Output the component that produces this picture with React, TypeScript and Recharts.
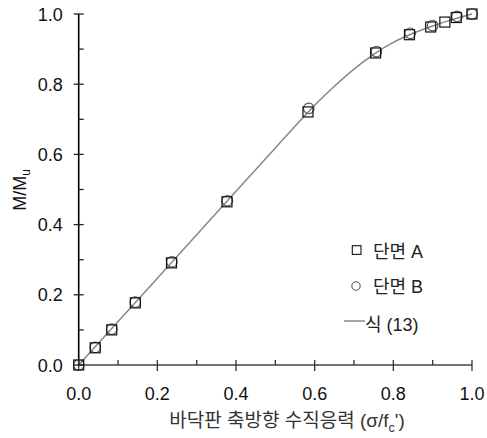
import { ComposedChart, Line, Scatter, XAxis, YAxis } from 'recharts';

// 단면 A (squares)
const sectionA = [
  { x: 0, y: 0 },
  { x: 0.042, y: 0.049 },
  { x: 0.084, y: 0.1 },
  { x: 0.144, y: 0.177 },
  { x: 0.236, y: 0.291 },
  { x: 0.377, y: 0.465 },
  { x: 0.583, y: 0.721 },
  { x: 0.755, y: 0.889 },
  { x: 0.841, y: 0.941 },
  { x: 0.895, y: 0.963 },
  { x: 0.931, y: 0.977 },
  { x: 0.96, y: 0.99 },
  { x: 1.0, y: 1.0 },
];

// 단면 B (circles)
const sectionB = [
  { x: 0, y: 0 },
  { x: 0.042, y: 0.05 },
  { x: 0.084, y: 0.102 },
  { x: 0.144, y: 0.179 },
  { x: 0.237, y: 0.294 },
  { x: 0.378, y: 0.468 },
  { x: 0.585, y: 0.731 },
  { x: 0.757, y: 0.893 },
  { x: 0.843, y: 0.945 },
  { x: 0.9, y: 0.967 },
  { x: 0.962, y: 0.993 },
  { x: 1.0, y: 1.0 },
];

// 식 (13)
const eq13 = [
  { x: 0, y: 0 },
  { x: 0.1, y: 0.1237 },
  { x: 0.2, y: 0.247 },
  { x: 0.3, y: 0.371 },
  { x: 0.4, y: 0.495 },
  { x: 0.5, y: 0.6185 },
  { x: 0.55, y: 0.68 },
  { x: 0.6, y: 0.74 },
  { x: 0.65, y: 0.794 },
  { x: 0.7, y: 0.843 },
  { x: 0.75, y: 0.885 },
  { x: 0.8, y: 0.919 },
  { x: 0.85, y: 0.945 },
  { x: 0.9, y: 0.966 },
  { x: 0.95, y: 0.984 },
  { x: 1.0, y: 1.0 },
];

const TICKS = [0, 0.1, 0.2, 0.3, 0.4, 0.5, 0.6, 0.7, 0.8, 0.9, 1.0];
const LEGEND = ['단면 A', '단면 B', '식 (13)'];

const FONT = "'Liberation Sans', Arial, sans-serif";
// latin glyphs in Arial-like face, hangul falls back to Noto CJK
const KFONT = "'Liberation Sans', 'Noto Sans CJK KR', sans-serif";

const isMajor = (v: number) => Math.round(v * 10) % 2 === 0;

function XTick({ x, y, payload }: any) {
  const v = payload.value;
  const major = isMajor(v);
  return (
    <g>
      <line x1={x} x2={x} y1={y - 5} y2={major ? y + 6 : y} stroke="#333" strokeWidth={1.3} />
      {major && (
        <text x={x} y={y + 34.5} textAnchor="middle" fontSize={18} fill="#111" fontFamily={FONT}>
          {v.toFixed(1)}
        </text>
      )}
    </g>
  );
}

function YTick({ x, y, payload }: any) {
  const v = payload.value;
  const major = isMajor(v);
  return (
    <g>
      <line x1={major ? x - 5 : x} x2={x + 5} y1={y} y2={y} stroke="#222" strokeWidth={1.3} />
      {major && (
        <text x={x - 16} y={y + 6.5} textAnchor="end" fontSize={18} fill="#111" fontFamily={FONT}>
          {v.toFixed(1)}
        </text>
      )}
    </g>
  );
}

function SquareDot({ cx, cy }: any) {
  return <rect x={cx - 5} y={cy - 5} width={10} height={10} fill="none" stroke="#111" strokeWidth={1.2} />;
}

function CircleDot({ cx, cy }: any) {
  return <circle cx={cx} cy={cy} r={5.3} fill="none" stroke="#555" strokeWidth={1.1} />;
}

export default function App() {
  return (
    <div style={{ position: 'absolute', left: 0, top: 0, width: 487, height: 438 }}>
      <ComposedChart width={487} height={438} margin={{ top: 14, right: 15, bottom: 0, left: 0 }}>
        <XAxis
          dataKey="x"
          type="number"
          domain={[0, 1]}
          ticks={TICKS}
          height={73}
          tickSize={0}
          tickMargin={0}
          tick={<XTick />}
          axisLine={{ stroke: '#444', strokeWidth: 1.6 }}
          label={{
            content: () => (
              <text x={287} y={427} textAnchor="middle" fontSize={19} fill="#333" fontFamily={KFONT}>
                바닥판 축방향 수직응력 (σ/f
                <tspan fontSize={12.5} dy={5}>c</tspan>
                <tspan dy={-5}>')</tspan>
              </text>
            ),
          }}
        />
        <XAxis xAxisId="top" orientation="top" type="number" domain={[0, 1]} height={0} tick={false} tickLine={false} axisLine={{ stroke: '#000', strokeWidth: 1.4 }} />
        <YAxis
          type="number"
          domain={[0, 1]}
          ticks={TICKS}
          width={78.7}
          tickSize={0}
          tickMargin={0}
          tick={<YTick />}
          axisLine={{ stroke: '#000', strokeWidth: 1.6 }}
          label={{
            content: () => (
              <text x={26} y={190} transform="rotate(-90 26 190)" textAnchor="middle" fontSize={18} fill="#111" fontFamily={FONT}>
                M/M
                <tspan fontSize={12} dy={4}>u</tspan>
              </text>
            ),
          }}
        />
        <YAxis yAxisId="right" orientation="right" type="number" domain={[0, 1]} width={0} tick={false} tickLine={false} axisLine={{ stroke: '#000', strokeWidth: 1.4 }} />
        <Line data={eq13} dataKey="y" type="monotone" stroke="#888" strokeWidth={1.5} dot={false} activeDot={false} isAnimationActive={false} />
        <Scatter data={sectionB} dataKey="y" shape={<CircleDot />} isAnimationActive={false} />
        <Scatter data={sectionA} dataKey="y" shape={<SquareDot />} isAnimationActive={false} />
      </ComposedChart>
      <svg width={487} height={438} style={{ position: 'absolute', left: 0, top: 0, pointerEvents: 'none' }}>
        <rect x={352.3} y={245.7} width={8.7} height={8.7} fill="none" stroke="#111" strokeWidth={1.1} />
        <text x={373} y={257.5} fontSize={18} fill="#222" fontFamily={KFONT}>{LEGEND[0]}</text>
        <circle cx={356} cy={286} r={4.2} fill="none" stroke="#555" strokeWidth={1.1} />
        <text x={373} y={293} fontSize={18} fill="#222" fontFamily={KFONT}>{LEGEND[1]}</text>
        <line x1={344} x2={365} y1={321} y2={321} stroke="#888" strokeWidth={1.5} />
        <text x={365} y={330.5} fontSize={18} fill="#222" fontFamily={KFONT}>{LEGEND[2]}</text>
      </svg>
    </div>
  );
}
